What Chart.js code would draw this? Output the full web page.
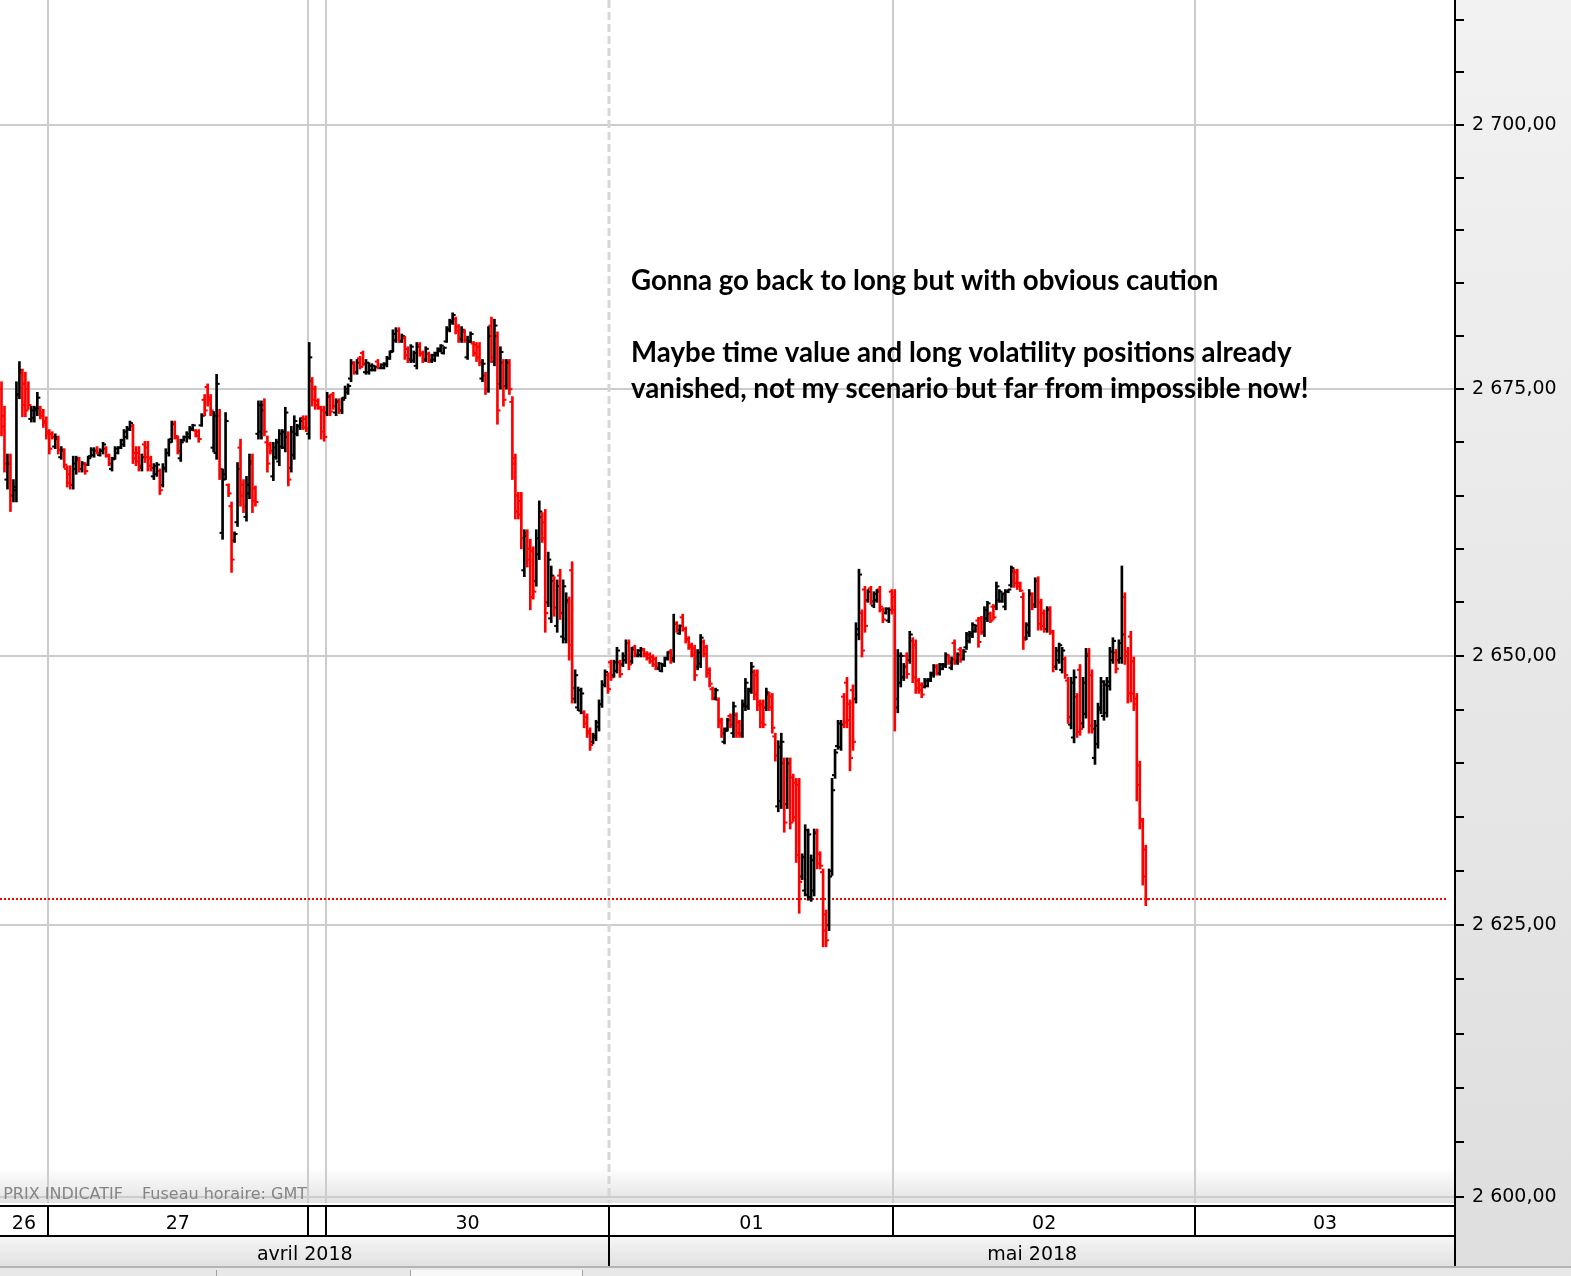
<!DOCTYPE html>
<html lang="fr">
<head>
<meta charset="utf-8">
<title>Indice - barres 15 min</title>
<script src="https://cdn.jsdelivr.net/npm/chart.js@4.4.1/dist/chart.umd.min.js"></script>
<style>
  html, body { margin: 0; padding: 0; background: #fff; overflow: hidden; }
  canvas { display: block; }
</style>
</head>
<body>
<canvas id="chart" width="1571" height="1276"></canvas>
<script>
// time axis: sessions and how many 15-minute slots each one holds
const dayLabels = ['26', '27', '', '30', '01', '02', '03'];
const daySlots = [16, 87, 6, 95, 95, 101, 87];
const monthLabels = ['avril 2018', 'mai 2018'];
const monthFirstDay = [0, 4];

// price axis
const yTicks = [2600, 2605, 2610, 2615, 2620, 2625, 2630, 2635, 2640, 2645, 2650, 2655,
  2660, 2665, 2670, 2675, 2680, 2685, 2690, 2695, 2700, 2705, 2710];
const yLabelled = [2600, 2625, 2650, 2675, 2700];

const notes = [
  'Gonna go back to long but with obvious caution',
  '',
  'Maybe time value and long volatility positions already',
  'vanished, not my scenario but far from impossible now!'
];
const footer = ['PRIX INDICATIF', 'Fuseau horaire: GMT'];

// bars as [open, high, low, close]
const bars26 = [
  [2675.0,2675.7,2670.6,2671.5],[2672.5,2673.4,2667.2,2668.0],[2666.5,2668.9,2665.6,2668.0],
  [2668.0,2668.9,2663.5,2665.0],[2665.0,2666.5,2664.4,2665.8],[2665.5,2675.7,2664.4,2674.5],
  [2674.5,2677.6,2674.1,2676.8],[2676.5,2676.9,2672.4,2673.5],[2675.5,2676.6,2672.4,2673.0],
  [2675.0,2675.7,2673.1,2673.5],[2672.2,2673.4,2671.9,2673.0],[2672.3,2673.4,2671.9,2673.2],
  [2673.0,2674.7,2672.5,2674.2],[2673.2,2673.4,2672.2,2672.5],[2672.8,2673.1,2671.4,2671.8],
  [2672.0,2672.4,2670.3,2670.8]
];
const bars27 = [
  [2671.0,2671.2,2668.9,2669.4],[2670.8,2671.0,2670.3,2670.5],[2669.6,2670.8,2669.4,2670.5],
  [2670.3,2670.6,2668.9,2669.3],[2668.6,2669.6,2668.4,2669.3],[2669.2,2669.4,2667.6,2667.9],
  [2667.5,2667.8,2665.8,2666.2],[2667.0,2667.8,2665.6,2666.0],[2666.0,2668.7,2665.6,2668.0],
  [2667.5,2668.7,2667.0,2668.5],[2668.3,2668.6,2667.2,2667.5],[2667.5,2668.2,2667.2,2668.0],
  [2668.0,2668.1,2667.0,2667.3],[2667.9,2668.7,2667.8,2668.5],[2668.7,2669.5,2668.6,2669.3],
  [2668.8,2669.5,2668.6,2669.2],[2669.2,2669.6,2668.9,2669.0],[2668.8,2669.4,2668.7,2669.2],
  [2669.2,2670.0,2668.9,2669.8],[2669.4,2669.6,2668.6,2668.8],[2668.7,2668.9,2667.8,2668.0],
  [2667.5,2668.6,2667.3,2668.4],[2668.5,2669.6,2668.4,2669.4],[2669.0,2669.6,2668.9,2669.5],
  [2669.5,2670.3,2669.4,2670.2],[2669.8,2671.2,2669.6,2671.0],[2670.5,2671.5,2670.3,2671.3],
  [2671.2,2672.0,2671.1,2671.8],[2671.5,2671.7,2668.0,2668.5],[2669.0,2669.6,2667.8,2668.2],
  [2669.0,2669.6,2667.3,2667.8],[2667.6,2668.9,2667.3,2668.6],[2669.8,2670.1,2668.1,2668.6],
  [2669.5,2670.1,2667.3,2667.8],[2668.5,2668.7,2667.3,2667.6],[2666.8,2668.0,2666.5,2667.8],
  [2667.0,2668.1,2666.8,2667.9],[2667.3,2667.5,2665.1,2665.5],[2666.0,2668.0,2665.8,2667.6],
  [2667.5,2669.4,2667.2,2669.0],[2669.0,2670.3,2668.7,2670.0],[2670.3,2672.0,2670.0,2671.7],
  [2671.8,2672.0,2670.3,2670.6],[2670.4,2670.6,2668.9,2669.2],[2668.5,2670.3,2668.2,2670.0],
  [2670.2,2670.6,2670.1,2670.5],[2670.5,2671.0,2670.0,2670.8],[2670.5,2671.5,2670.3,2671.3],
  [2671.2,2671.7,2671.1,2671.6],[2671.1,2671.2,2670.5,2670.6],[2671.0,2671.2,2670.0,2670.3],
  [2671.6,2672.7,2671.5,2672.5],[2674.0,2674.5,2672.5,2673.0],[2675.2,2675.5,2673.4,2674.0],
  [2674.2,2674.5,2672.5,2673.0],[2669.5,2672.9,2669.1,2672.5],[2669.0,2676.4,2668.4,2675.5],
  [2672.5,2673.1,2666.5,2667.5],[2661.5,2667.5,2660.9,2666.5],[2667.0,2672.8,2666.5,2672.0],
  [2666.0,2666.1,2664.9,2665.2],[2664.0,2664.4,2657.8,2659.0],[2660.8,2661.6,2660.6,2661.4],
  [2662.5,2668.1,2662.1,2667.5],[2669.5,2670.3,2664.0,2665.0],[2666.0,2666.5,2663.4,2664.0],
  [2663.0,2666.8,2662.6,2666.0],[2665.2,2668.9,2664.7,2668.2],[2668.0,2668.9,2663.4,2664.5],
  [2665.7,2665.9,2664.0,2664.4],[2670.8,2673.9,2670.3,2673.5],[2671.0,2673.9,2670.3,2673.0],
  [2673.5,2674.1,2670.6,2671.0],[2670.0,2670.6,2667.2,2668.0],[2669.8,2670.0,2668.9,2669.2],
  [2666.8,2670.0,2666.4,2669.5],[2668.6,2670.3,2668.4,2670.0],[2668.2,2671.2,2667.8,2670.8],
  [2669.6,2671.2,2669.4,2671.0],[2669.5,2673.3,2669.1,2672.8],[2670.5,2671.0,2665.9,2666.5],
  [2667.6,2671.5,2667.2,2671.0],[2668.8,2672.5,2668.4,2672.0],[2670.8,2671.7,2670.6,2671.5],
  [2671.5,2672.3,2671.2,2672.0],[2672.3,2672.5,2671.2,2671.4],[2672.2,2672.5,2671.0,2671.3]
];
const bars29 = [
  [2670.8,2679.4,2670.3,2678.0],[2675.8,2676.1,2673.4,2674.0],[2675.0,2675.3,2673.1,2673.5],
  [2673.9,2674.1,2673.1,2673.3],[2673.2,2673.4,2670.3,2671.0],[2673.0,2673.4,2670.1,2670.5]
];
const bars30 = [
  [2672.8,2674.7,2672.5,2674.3],[2674.3,2674.5,2672.5,2672.9],[2674.5,2674.7,2673.1,2673.4],
  [2672.8,2674.1,2672.5,2673.8],[2673.9,2674.1,2672.7,2673.0],[2673.0,2674.2,2672.7,2674.0],
  [2674.2,2675.3,2674.1,2675.0],[2674.7,2675.5,2674.5,2675.3],[2676.0,2677.8,2675.7,2677.5],
  [2677.4,2677.6,2676.4,2676.6],[2676.6,2677.8,2676.4,2677.5],[2677.9,2678.1,2676.9,2677.1],
  [2678.4,2678.6,2677.2,2677.4],[2676.6,2677.8,2676.4,2677.5],[2676.6,2677.5,2676.4,2677.2],
  [2676.8,2677.4,2676.7,2677.2],[2676.8,2677.2,2676.7,2677.1],[2677.6,2677.8,2676.9,2677.0],
  [2677.0,2677.4,2676.9,2677.3],[2677.0,2677.5,2676.9,2677.4],[2677.3,2678.1,2677.1,2677.9],
  [2677.9,2678.6,2677.8,2678.5],[2678.6,2680.6,2678.5,2680.2],[2679.6,2680.8,2679.4,2680.5],
  [2680.5,2680.8,2679.4,2679.6],[2679.5,2680.2,2679.4,2680.0],[2679.8,2680.0,2677.8,2678.2],
  [2678.8,2679.0,2677.5,2677.8],[2677.8,2679.2,2677.5,2679.0],[2677.7,2678.6,2677.5,2678.4],
  [2677.2,2679.4,2676.9,2679.0],[2679.2,2679.4,2678.1,2678.3],[2678.4,2678.6,2677.5,2677.7],
  [2677.8,2679.0,2677.6,2678.8],[2678.3,2678.5,2677.5,2677.7],[2677.7,2678.3,2677.5,2678.2],
  [2677.8,2678.5,2677.6,2678.4],[2678.2,2678.9,2678.1,2678.8],[2678.6,2679.2,2678.5,2679.1],
  [2678.4,2679.0,2678.3,2678.9],[2679.5,2680.9,2679.4,2680.7],[2680.6,2681.6,2680.4,2681.4],
  [2681.3,2682.2,2681.1,2682.0],[2681.6,2681.8,2680.2,2680.5],[2680.9,2681.1,2679.4,2679.8],
  [2679.7,2680.9,2679.4,2680.6],[2680.4,2680.6,2679.4,2679.6],[2678.0,2680.0,2677.8,2679.5],
  [2679.5,2680.4,2679.4,2680.2],[2679.3,2679.5,2678.1,2678.4],[2679.2,2679.4,2677.6,2678.0],
  [2679.0,2679.4,2677.2,2677.5],[2676.0,2677.8,2675.7,2677.4],[2676.3,2676.6,2674.5,2675.0],
  [2675.0,2680.9,2674.7,2680.0],[2681.0,2681.8,2677.5,2678.0],[2677.6,2681.6,2677.2,2681.0],
  [2680.0,2680.4,2671.7,2673.0],[2675.5,2679.0,2675.0,2678.5],[2677.5,2677.8,2673.4,2674.0],
  [2675.3,2677.8,2675.0,2677.5],[2677.5,2677.8,2674.5,2675.0],[2673.8,2674.3,2666.5,2668.0],
  [2668.5,2668.9,2662.8,2663.5],[2665.0,2665.3,2662.8,2663.2],[2664.5,2665.3,2660.0,2661.0],
  [2658.0,2661.8,2657.4,2661.2],[2661.5,2661.8,2658.3,2659.0],[2660.0,2660.9,2654.3,2655.5],
  [2659.8,2660.2,2655.3,2656.0],[2657.0,2661.8,2656.5,2661.0],[2659.5,2664.5,2659.0,2663.5],
  [2663.0,2663.4,2660.6,2661.0],[2662.5,2663.7,2652.2,2654.0],[2655.0,2659.7,2654.6,2659.0],
  [2653.5,2658.4,2653.1,2657.5],[2657.0,2657.4,2653.7,2654.5],[2652.8,2657.1,2652.2,2656.5],
  [2657.5,2658.1,2653.4,2654.0],[2651.8,2657.1,2651.2,2656.5],[2651.6,2655.9,2651.2,2655.2],
  [2655.0,2655.5,2649.6,2651.0],[2658.0,2658.8,2645.6,2647.0],[2646.0,2648.7,2645.6,2648.2],
  [2645.2,2647.1,2644.9,2646.8],[2644.9,2647.0,2644.6,2646.5],[2644.7,2644.9,2643.3,2643.7],
  [2644.3,2644.6,2642.4,2642.8],[2643.0,2643.3,2641.2,2641.7],[2642.0,2642.8,2641.8,2642.6],
  [2642.4,2644.0,2642.1,2643.8],[2643.4,2645.9,2643.0,2645.5],[2645.5,2647.7,2645.2,2647.3],
  [2647.3,2648.7,2647.1,2648.5],[2648.2,2648.4,2646.5,2646.9]
];
const bars01 = [
  [2649.4,2649.6,2647.7,2648.0],[2648.2,2649.6,2648.0,2649.4],[2648.6,2650.8,2648.4,2650.5],
  [2649.4,2649.6,2648.0,2648.3],[2649.2,2650.3,2649.0,2650.0],[2649.6,2651.5,2649.3,2651.2],
  [2651.2,2651.5,2648.7,2649.2],[2649.5,2650.8,2649.3,2650.6],[2650.8,2651.0,2649.9,2650.1],
  [2650.0,2650.6,2649.9,2650.5],[2650.1,2650.8,2649.9,2650.6],[2650.6,2650.7,2649.9,2650.0],
  [2650.2,2650.4,2649.6,2649.8],[2650.1,2650.3,2649.3,2649.5],[2649.9,2650.1,2649.0,2649.2],
  [2649.7,2649.9,2648.7,2648.9],[2648.8,2649.4,2648.7,2649.3],[2648.6,2649.3,2648.5,2649.2],
  [2649.1,2649.9,2649.0,2649.8],[2649.7,2650.4,2649.6,2650.3],[2650.4,2650.6,2649.3,2649.6],
  [2649.8,2653.9,2649.4,2653.0],[2653.0,2653.2,2652.2,2652.4],[2652.1,2652.9,2652.0,2652.8],
  [2653.6,2653.9,2652.3,2652.5],[2652.5,2652.7,2651.2,2651.5],[2651.6,2651.8,2650.6,2650.8],
  [2651.0,2651.2,2649.9,2650.1],[2650.7,2651.0,2647.7,2648.2],[2649.0,2650.6,2648.7,2650.3],
  [2649.3,2652.0,2648.9,2651.7],[2651.3,2651.5,2649.9,2650.2],[2650.8,2651.0,2648.0,2648.4],
  [2648.7,2648.9,2647.1,2647.4],[2646.9,2647.1,2645.9,2646.1],[2646.0,2647.0,2645.9,2646.8],
  [2645.9,2646.1,2643.3,2643.8],[2644.0,2644.2,2642.4,2642.8],[2642.0,2643.3,2641.8,2643.0],
  [2643.2,2644.2,2643.0,2644.0],[2644.4,2644.6,2643.3,2643.6],[2642.8,2645.7,2642.4,2645.3],
  [2644.5,2644.7,2642.4,2642.8],[2643.8,2644.0,2642.4,2642.6],[2642.8,2645.9,2642.4,2645.5],
  [2645.3,2647.9,2644.9,2647.5],[2645.3,2647.0,2645.0,2646.7],[2646.9,2649.4,2646.5,2649.0],
  [2648.5,2648.7,2645.9,2646.4],[2648.2,2648.7,2644.9,2645.4],[2645.7,2645.9,2643.3,2643.8],
  [2645.5,2645.9,2643.3,2643.6],[2645.2,2647.0,2644.9,2646.6],[2646.4,2646.6,2644.9,2645.2],
  [2646.2,2646.5,2642.8,2643.3],[2642.5,2642.8,2640.2,2640.7],[2636.0,2642.1,2635.5,2641.5],
  [2636.5,2642.8,2635.8,2642.0],[2640.0,2640.5,2633.6,2634.5],[2636.2,2640.5,2635.8,2640.0],
  [2640.0,2640.5,2633.9,2634.5],[2638.7,2639.0,2634.6,2635.0],[2638.2,2638.6,2630.8,2631.5],
  [2638.0,2638.6,2626.1,2629.0],[2629.5,2631.6,2629.2,2631.3],[2628.2,2634.3,2627.7,2633.8],
  [2627.8,2633.9,2627.3,2633.4],[2627.6,2631.5,2627.2,2631.0],[2628.2,2633.9,2627.7,2633.5],
  [2633.6,2633.9,2630.2,2630.7],[2631.6,2631.8,2630.2,2630.5],[2629.9,2630.2,2623.0,2624.5],
  [2626.0,2626.4,2623.0,2623.6],[2625.0,2630.2,2624.5,2629.5],[2630.0,2638.6,2629.6,2637.5],
  [2638.9,2641.3,2638.6,2641.0],[2641.6,2644.0,2641.3,2643.7],[2641.5,2644.0,2641.2,2643.6],
  [2646.2,2646.5,2643.3,2643.8],[2647.5,2648.0,2643.3,2644.0],[2645.5,2645.9,2639.3,2640.5],
  [2646.8,2647.3,2641.2,2642.0],[2646.0,2653.1,2645.6,2652.5],[2652.0,2658.1,2651.5,2657.6],
  [2654.0,2654.3,2649.9,2650.5],[2656.2,2656.5,2652.2,2652.8],[2655.2,2656.2,2655.0,2656.0],
  [2656.3,2656.5,2654.8,2655.1],[2654.7,2656.0,2654.5,2655.8],[2655.2,2656.2,2655.0,2656.0],
  [2656.2,2656.5,2654.1,2654.6],[2654.3,2654.5,2653.1,2653.4],[2654.0,2654.5,2653.9,2654.4],
  [2653.3,2654.5,2653.1,2654.3],[2656.0,2656.2,2653.9,2654.3]
];
const bars02 = [
  [2655.5,2656.2,2643.0,2646.0],[2645.2,2650.6,2644.7,2650.0],[2647.5,2650.3,2647.1,2650.0],
  [2648.0,2649.3,2647.7,2649.0],[2650.0,2650.3,2647.9,2648.3],[2649.6,2652.3,2649.3,2652.0],
  [2651.4,2651.7,2647.5,2648.0],[2651.0,2651.5,2646.5,2647.0],[2647.7,2647.9,2646.5,2646.8],
  [2647.3,2647.5,2646.1,2646.4],[2647.1,2647.9,2647.0,2647.7],[2647.2,2647.9,2647.1,2647.8],
  [2647.7,2648.5,2647.6,2648.4],[2648.2,2649.2,2648.0,2649.0],[2649.0,2649.2,2648.2,2648.4],
  [2648.4,2649.3,2648.2,2649.2],[2648.8,2649.3,2648.7,2649.2],[2649.1,2650.3,2648.9,2650.1],
  [2650.0,2650.1,2649.2,2649.4],[2648.9,2649.9,2648.7,2649.7],[2651.2,2651.5,2649.2,2649.6],
  [2649.4,2650.3,2649.2,2650.1],[2650.6,2650.8,2649.4,2649.7],[2649.7,2650.6,2649.6,2650.4],
  [2650.8,2652.2,2650.6,2652.0],[2651.4,2652.3,2651.2,2652.1],[2651.9,2653.1,2651.7,2652.9],
  [2652.3,2652.9,2652.2,2652.8],[2653.3,2653.6,2650.8,2651.3],[2653.5,2653.7,2652.0,2652.3],
  [2652.2,2654.6,2651.8,2654.3],[2653.5,2655.1,2653.2,2654.9],[2653.9,2654.1,2653.1,2653.3],
  [2654.6,2654.8,2653.4,2653.6],[2654.6,2656.9,2654.3,2656.5],[2655.2,2656.2,2655.0,2656.0],
  [2655.1,2655.9,2655.0,2655.8],[2654.6,2656.2,2654.3,2656.0],[2656.0,2656.2,2655.9,2656.2],
  [2656.6,2658.4,2656.4,2658.2],[2657.9,2658.1,2656.4,2656.8],[2657.8,2658.1,2656.2,2656.5],
  [2656.8,2656.9,2656.0,2656.1],[2655.5,2655.9,2650.6,2651.5],[2651.7,2653.1,2651.5,2652.9],
  [2652.2,2656.2,2651.8,2655.8],[2655.7,2655.9,2654.3,2654.6],[2654.8,2657.3,2654.5,2657.0],
  [2657.0,2657.4,2652.4,2653.0],[2655.0,2655.3,2652.4,2652.8],[2654.0,2654.3,2652.2,2652.5],
  [2652.5,2654.6,2652.2,2654.3],[2654.4,2654.6,2652.0,2652.3],[2652.2,2652.4,2648.5,2649.0],
  [2649.0,2650.8,2648.7,2650.5],[2649.6,2651.2,2649.3,2651.0],[2648.7,2650.8,2648.4,2650.5],
  [2649.7,2649.9,2647.9,2648.2],[2647.7,2648.0,2643.7,2644.3],[2643.6,2648.0,2643.2,2647.5],
  [2642.4,2648.7,2641.9,2648.0],[2646.2,2646.5,2642.4,2642.9],[2648.7,2649.2,2642.6,2643.2],
  [2643.7,2648.0,2643.3,2647.5],[2644.6,2650.7,2644.2,2650.0],[2650.2,2650.7,2642.8,2643.5],
  [2648.2,2648.7,2642.8,2643.2],[2640.5,2644.0,2639.9,2643.5],[2641.8,2645.6,2641.4,2645.2],
  [2645.0,2648.0,2644.6,2647.6],[2644.4,2647.7,2644.0,2647.3],[2644.7,2648.0,2644.3,2647.6],
  [2647.2,2650.8,2646.8,2650.4],[2649.6,2651.7,2649.3,2651.4],[2650.3,2650.6,2648.4,2648.8],
  [2649.6,2651.5,2649.3,2651.2],[2649.8,2658.4,2649.3,2652.0],[2655.5,2655.9,2649.2,2650.0],
  [2650.4,2650.8,2645.6,2646.5],[2651.8,2652.3,2645.7,2646.5],[2649.5,2649.9,2644.9,2645.5],
  [2646.0,2646.5,2636.5,2638.0],[2639.8,2640.2,2633.9,2634.8],[2634.6,2634.9,2628.7,2629.5],
  [2632.0,2632.4,2626.8,2627.4]
];

const bars = [bars26, bars27, bars29, bars30, bars01, bars02].flat();
const lastClose = bars[bars.length - 1][3];
const barColors = bars.map(b => b[3] >= b[0] ? '#000000' : '#ff0000');

// first slot of every session
const dayStart = [];
daySlots.reduce((s, n) => { dayStart.push(s); return s + n; }, 0);
const totalSlots = daySlots.reduce((a, b) => a + b, 0);

function priceLabel(v) {
  const s = v.toFixed(2).replace('.', ',');
  return s.slice(0, s.length - 6) + ' ' + s.slice(-6);
}

const frame = {
  id: 'frame',
  beforeDraw(chart) {
    const { ctx, chartArea: a, width, height } = chart;
    ctx.save();
    ctx.fillStyle = '#ffffff';
    ctx.fillRect(0, 0, width, height);
    const side = ctx.createLinearGradient(0, 0, 0, height);
    side.addColorStop(0, '#f2f2f2');
    side.addColorStop(1, '#dedede');
    ctx.fillStyle = side;
    ctx.fillRect(a.right, 0, width - a.right, height);
    const fade = ctx.createLinearGradient(0, a.bottom - 36, 0, a.bottom);
    fade.addColorStop(0, 'rgba(226,226,226,0)');
    fade.addColorStop(1, 'rgba(226,226,226,1)');
    ctx.fillStyle = fade;
    ctx.fillRect(a.left, a.bottom - 36, a.right - a.left, 36);
    ctx.restore();
  },
  beforeDatasetsDraw(chart) {
    const { ctx, chartArea: a, scales: { x, y } } = chart;
    ctx.save();
    // session separators
    for (let k = 1; k < dayStart.length; k++) {
      const px = Math.round(x.getPixelForValue(dayStart[k] - 0.5));
      ctx.beginPath();
      if (k === monthFirstDay[1]) {
        ctx.strokeStyle = '#d6d6d6';
        ctx.lineWidth = 3;
        ctx.setLineDash([8, 4]);
      } else {
        ctx.strokeStyle = '#cccccc';
        ctx.lineWidth = 2;
        ctx.setLineDash([]);
      }
      ctx.moveTo(px, a.top);
      ctx.lineTo(px, a.bottom);
      ctx.stroke();
    }
    // last price
    const py = Math.round(y.getPixelForValue(lastClose));
    ctx.setLineDash([2, 2]);
    ctx.strokeStyle = '#ff0000';
    ctx.lineWidth = 2;
    ctx.beginPath();
    ctx.moveTo(a.left, py);
    ctx.lineTo(a.right - 8, py);
    ctx.stroke();
    ctx.setLineDash([]);
    // footer
    ctx.font = '16px "DejaVu Sans"';
    ctx.fillStyle = '#858585';
    ctx.textBaseline = 'alphabetic';
    ctx.textAlign = 'right';
    ctx.fillText(footer[0], 123, a.bottom - 4);
    ctx.textAlign = 'left';
    ctx.fillText(footer[1], 142, a.bottom - 4);
    ctx.restore();
  },
  afterDatasetsDraw(chart) {
    const { ctx } = chart;
    ctx.save();
    ctx.font = 'bold 26px Lato';
    const fit = [584, 660, 682];
    const lines = notes.filter(Boolean);
    const size = lines.reduce((s, t, i) => s + 26 * fit[i] / ctx.measureText(t).width, 0) / lines.length;
    ctx.font = 'bold ' + size.toFixed(2) + 'px Lato';
    ctx.fillStyle = '#000000';
    ctx.textAlign = 'left';
    ctx.textBaseline = 'alphabetic';
    notes.forEach((t, i) => { if (t) ctx.fillText(t, 631, 290 + i * 36); });
    ctx.restore();
  },
  afterDraw(chart) {
    const { ctx, chartArea: a, scales: { x } } = chart;
    const top = a.bottom + 3;
    const mid = top + 30;
    const bot = mid + 30;
    ctx.save();
    // day row and month row
    ctx.fillStyle = '#ffffff';
    ctx.fillRect(0, top, a.right, mid - top);
    const g = ctx.createLinearGradient(0, mid, 0, bot);
    g.addColorStop(0, '#f6f6f6');
    g.addColorStop(1, '#e1e1e1');
    ctx.fillStyle = g;
    ctx.fillRect(0, mid, a.right, bot - mid);
    // strip under the axis
    ctx.fillStyle = '#e8e8e8';
    ctx.fillRect(0, bot + 2, chart.width, chart.height - bot - 2);
    ctx.fillStyle = '#f8f8f8';
    ctx.fillRect(410, bot + 4, 172, chart.height - bot - 4);
    ctx.strokeStyle = '#a0a0a0';
    ctx.lineWidth = 1;
    [216, 410, 582].forEach(px => {
      ctx.beginPath(); ctx.moveTo(px + 0.5, bot + 4); ctx.lineTo(px + 0.5, chart.height); ctx.stroke();
    });
    ctx.fillStyle = '#b4b4b4';
    ctx.fillRect(0, bot, chart.width, 2);

    ctx.strokeStyle = '#000000';
    ctx.lineWidth = 2;
    ctx.beginPath();
    ctx.moveTo(0, top); ctx.lineTo(a.right, top);
    ctx.moveTo(0, mid); ctx.lineTo(a.right, mid);
    ctx.moveTo(a.right, a.bottom); ctx.lineTo(a.right, bot);
    for (let k = 1; k < dayStart.length; k++) {
      const px = Math.round(x.getPixelForValue(dayStart[k] - 0.5));
      ctx.moveTo(px, top); ctx.lineTo(px, mid);
      if (k === monthFirstDay[1]) { ctx.moveTo(px, mid); ctx.lineTo(px, bot); }
    }
    ctx.stroke();

    ctx.fillStyle = '#000000';
    ctx.font = '19px "DejaVu Sans"';
    ctx.textAlign = 'center';
    ctx.textBaseline = 'alphabetic';
    const edge = s => Math.min(Math.max(x.getPixelForValue(s - 0.5), a.left), a.right);
    dayLabels.forEach((lbl, k) => {
      const l = edge(dayStart[k]);
      const r = edge(dayStart[k] + daySlots[k]);
      if (lbl) ctx.fillText(lbl, (l + r) / 2, top + 23);
    });
    monthLabels.forEach((lbl, m) => {
      const first = dayStart[monthFirstDay[m]];
      const last = m + 1 < monthFirstDay.length ? dayStart[monthFirstDay[m + 1]] : totalSlots;
      ctx.fillText(lbl, (edge(first) + edge(last)) / 2, mid + 24);
    });
    ctx.restore();
  }
};

new Chart(document.getElementById('chart'), {
  type: 'bar',
  data: {
    datasets: [
      {
        type: 'bar',
        data: bars.map((b, i) => ({ x: i, y: [b[2], b[1]] })),
        backgroundColor: barColors,
        borderWidth: 0,
        barThickness: 2,
        minBarLength: 1,
        grouped: false
      },
      {
        type: 'scatter',
        data: bars.map((b, i) => ({ x: i - 0.45, y: b[0] })),
        pointStyle: 'line',
        pointRadius: 1.7,
        pointHoverRadius: 1.7,
        pointBorderWidth: 2,
        pointBorderColor: barColors
      },
      {
        type: 'scatter',
        data: bars.map((b, i) => ({ x: i + 0.45, y: b[3] })),
        pointStyle: 'line',
        pointRadius: 1.7,
        pointHoverRadius: 1.7,
        pointBorderWidth: 2,
        pointBorderColor: barColors
      }
    ]
  },
  options: {
    responsive: false,
    animation: false,
    devicePixelRatio: 1,
    events: [],
    layout: { autoPadding: false, padding: { left: 0, right: 0, top: 0, bottom: 73 } },
    plugins: { legend: { display: false }, tooltip: { enabled: false } },
    scales: {
      x: {
        type: 'linear',
        display: false,
        offset: false,
        min: -0.5,
        max: totalSlots - 0.5
      },
      y: {
        type: 'logarithmic',
        position: 'right',
        min: 2599.45,
        max: 2711.9,
        afterBuildTicks: s => { s.ticks = yTicks.map(v => ({ value: v })); },
        afterFit: s => { s.width = 116; s.paddingTop = 0; s.paddingBottom = 0; },
        grid: {
          color: c => (c.tick && yLabelled.includes(c.tick.value)) ? '#cccccc' : 'rgba(0,0,0,0)',
          lineWidth: 2,
          tickColor: '#000000',
          tickWidth: 2,
          tickLength: 9,
          drawTicks: true
        },
        border: { display: true, color: '#000000', width: 2 },
        ticks: {
          autoSkip: false,
          padding: 8,
          color: '#000000',
          font: { family: 'DejaVu Sans', size: 19 },
          callback: v => yLabelled.includes(v) ? priceLabel(v) : ''
        }
      }
    }
  },
  plugins: [frame]
});
</script>
</body>
</html>
